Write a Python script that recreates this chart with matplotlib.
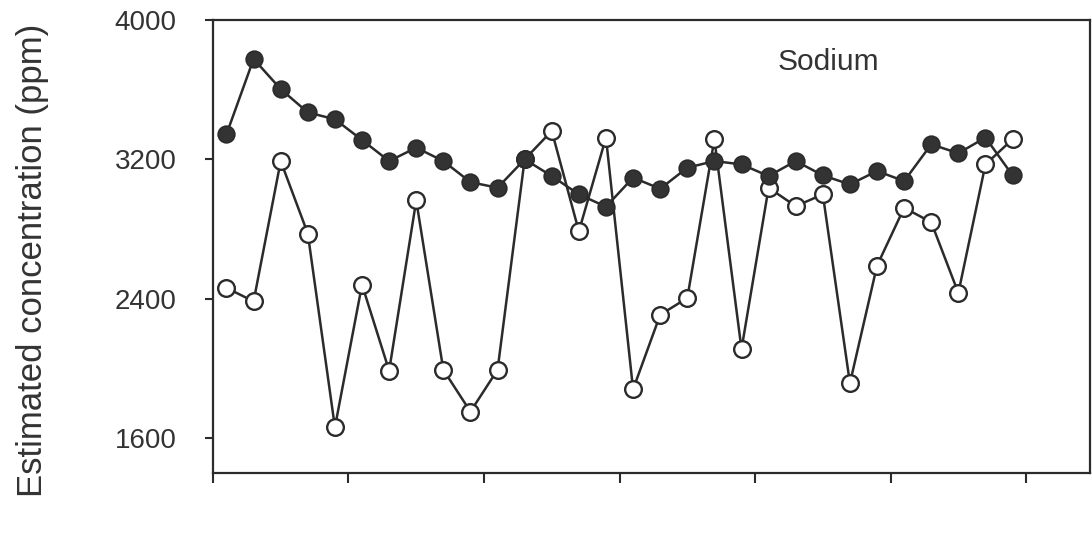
import matplotlib.pyplot as plt

# Sodium estimates, one value per sample (1..30)
samples = list(range(1, 31))
sodium_filled = [3344, 3776, 3603, 3469, 3430, 3311, 3190, 3267, 3190, 3069,
                 3037, 3200, 3104, 2999, 2928, 3095, 3031, 3152, 3190, 3171,
                 3104, 3190, 3108, 3056, 3133, 3075, 3286, 3235, 3325, 3108]
sodium_open = [2462, 2385, 3190, 2774, 1662, 2481, 1987, 2964, 1992, 1752,
               1992, 3200, 3363, 2787, 3325, 1880, 2308, 2404, 3315, 2111,
               3037, 2931, 2999, 1915, 2590, 2922, 2839, 2433, 3171, 3315]

y_ticks = [1600, 2400, 3200, 4000]
x_ticks = [0.5, 5.5, 10.5, 15.5, 20.5, 25.5, 30.5]

plt.rcParams['font.family'] = ['Liberation Sans', 'DejaVu Sans']
INK = '#2b2b2b'

fig = plt.figure(figsize=(10.92, 5.33), dpi=100)
ax = fig.add_axes([0.195, 0.1126, 0.803, 0.85])

ax.plot(samples, sodium_open, color=INK, lw=1.8, marker='o', ms=12,
        mfc='white', mec=INK, mew=1.7, zorder=2)
ax.plot(samples, sodium_filled, color=INK, lw=1.8, marker='o', ms=12,
        mfc='#333333', mec=INK, mew=1.2, zorder=3)

ax.set_xlim(0.5, 32.85)
ax.set_ylim(1400, 4000)
ax.set_yticks(y_ticks)
ax.set_xticks(x_ticks)
ax.set_xticklabels([])

ax.tick_params(axis='y', direction='out', length=6, width=1.5, colors=INK,
               labelsize=20, pad=20, labelcolor='#333333')
ax.tick_params(axis='x', direction='out', length=7, width=1.5, colors=INK)
for s in ax.spines.values():
    s.set_linewidth(1.6)
    s.set_color(INK)

ax.set_ylabel('Estimated concentration (ppm)', fontsize=25, color='#333333')
ax.yaxis.set_label_coords(-0.187, 0.47)

ax.text(23.2, 3760, 'Sodium', fontsize=21.5, color='#333333',
        ha='center', va='center')

fig.savefig('out.png', dpi=100)
